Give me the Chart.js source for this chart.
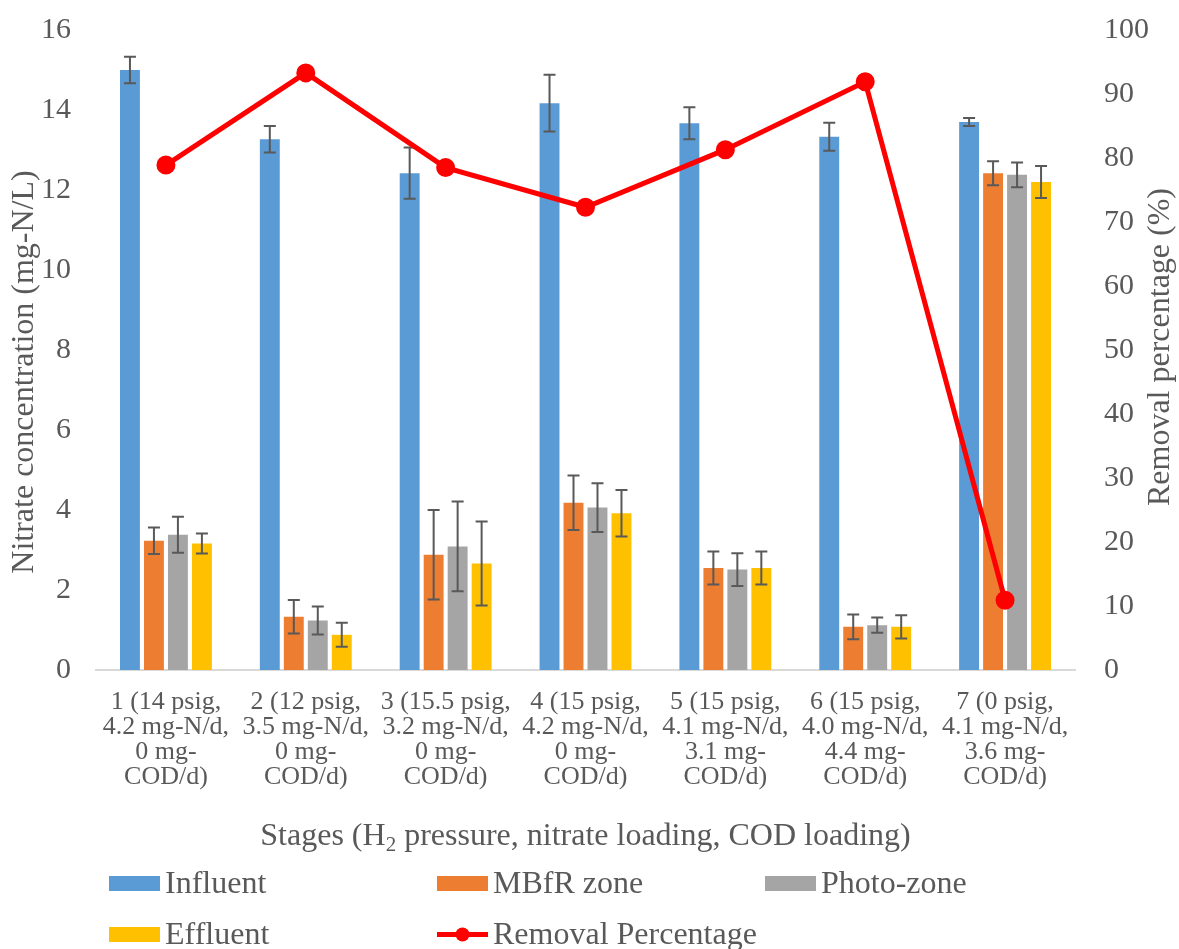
<!DOCTYPE html>
<html>
<head>
<meta charset="utf-8">
<title>Nitrate removal by stage</title>
<script src="https://cdn.jsdelivr.net/npm/chart.js@4.4.1/dist/chart.umd.min.js"></script>
<style>
  html, body { margin: 0; padding: 0; background: #ffffff; }
  canvas { display: block; }
</style>
</head>
<body>
<canvas id="chart" width="1179" height="949"></canvas>
<script>
// Stage labels (multi-line)
const stages = [
  ["1 (14 psig,", "4.2 mg-N/d,", "0 mg-", "COD/d)"],
  ["2 (12 psig,", "3.5 mg-N/d,", "0 mg-", "COD/d)"],
  ["3 (15.5 psig,", "3.2 mg-N/d,", "0 mg-", "COD/d)"],
  ["4 (15 psig,", "4.2 mg-N/d,", "0 mg-", "COD/d)"],
  ["5 (15 psig,", "4.1 mg-N/d,", "3.1 mg-", "COD/d)"],
  ["6 (15 psig,", "4.0 mg-N/d,", "4.4 mg-", "COD/d)"],
  ["7 (0 psig,", "4.1 mg-N/d,", "3.6 mg-", "COD/d)"]
];

// Nitrate concentration (mg-N/L) and standard deviations
const influent    = [15.00, 13.27, 12.42, 14.17, 13.67, 13.33, 13.70];
const influentErr = [0.33, 0.33, 0.64, 0.71, 0.40, 0.35, 0.10];
const mbfr        = [3.23, 1.33, 2.88, 4.18, 2.55, 1.08, 12.42];
const mbfrErr     = [0.33, 0.42, 1.12, 0.68, 0.41, 0.31, 0.30];
const photo       = [3.38, 1.24, 3.09, 4.06, 2.51, 1.12, 12.38];
const photoErr    = [0.45, 0.35, 1.12, 0.61, 0.41, 0.19, 0.31];
const effluent    = [3.16, 0.88, 2.66, 3.92, 2.55, 1.08, 12.20];
const effluentErr = [0.25, 0.30, 1.05, 0.58, 0.41, 0.29, 0.40];

// Removal percentage (%)
const removal = [78.9, 93.3, 78.5, 72.3, 81.3, 91.9, 10.9];

// Axis ticks
const leftTicks  = [0, 2, 4, 6, 8, 10, 12, 14, 16];
const rightTicks = [0, 10, 20, 30, 40, 50, 60, 70, 80, 90, 100];

// Axis titles
const leftTitle  = 'Nitrate concentration (mg-N/L)';
const rightTitle = 'Removal percentage (%)';

const FONT = "'Liberation Serif', 'Times New Roman', serif";
const TEXT = '#595959';

// Error bars drawn right after each bar dataset
const errorBars = {
  id: 'errorBars',
  afterDatasetDraw(chart, args) {
    const ds = chart.data.datasets[args.index];
    if (!ds.errors) return;
    const meta = args.meta;
    const y = chart.scales[meta.yAxisID];
    const ctx = chart.ctx;
    ctx.save();
    ctx.strokeStyle = '#595959';
    ctx.lineWidth = 2;
    meta.data.forEach((bar, i) => {
      const v = ds.data[i], e = ds.errors[i];
      const top = y.getPixelForValue(v + e);
      const bot = y.getPixelForValue(v - e);
      const x = bar.x, cap = 6;
      ctx.beginPath();
      ctx.moveTo(x, top); ctx.lineTo(x, bot);
      ctx.moveTo(x - cap, top); ctx.lineTo(x + cap, top);
      ctx.moveTo(x - cap, bot); ctx.lineTo(x + cap, bot);
      ctx.stroke();
    });
    ctx.restore();
  }
};

// Axis titles (x title with subscript) and a three-column legend
const decor = {
  id: 'decor',
  afterDraw(chart) {
    const ctx = chart.ctx;
    const area = chart.chartArea;
    const big = '32px ' + FONT, small = '21px ' + FONT;
    ctx.save();
    ctx.fillStyle = TEXT;

    // Vertical axis titles, reading bottom to top
    ctx.font = big;
    ctx.textAlign = 'center';
    ctx.textBaseline = 'middle';
    [[leftTitle, 25, 372], [rightTitle, 1161, 347]].forEach(([t, x, y]) => {
      ctx.save();
      ctx.translate(x, y);
      ctx.rotate(-Math.PI / 2);
      ctx.fillText(t, 0, 0);
      ctx.restore();
    });

    // Horizontal axis title
    ctx.textBaseline = 'alphabetic';
    ctx.textAlign = 'left';
    const parts = [
      { t: 'Stages (H', f: big, dy: 0 },
      { t: '2', f: small, dy: 6 },
      { t: ' pressure, nitrate loading, COD loading)', f: big, dy: 0 }
    ];
    let total = 0;
    parts.forEach(p => { ctx.font = p.f; p.w = ctx.measureText(p.t).width; total += p.w; });
    let x = (area.left + area.right) / 2 - total / 2;
    const base = 845;
    parts.forEach(p => { ctx.font = p.f; ctx.fillText(p.t, x, base + p.dy); x += p.w; });

    // Legend
    const cols = [109, 437, 765];
    const rows = [883.5, 934.5];
    ctx.font = big;
    chart.data.datasets.forEach((ds, i) => {
      const cx = cols[i % 3], cy = rows[Math.floor(i / 3)];
      if (ds.type === 'line') {
        ctx.strokeStyle = ds.borderColor;
        ctx.lineWidth = 5;
        ctx.beginPath(); ctx.moveTo(cx, cy); ctx.lineTo(cx + 51, cy); ctx.stroke();
        ctx.fillStyle = ds.pointBackgroundColor;
        ctx.beginPath(); ctx.arc(cx + 25.5, cy, 7, 0, Math.PI * 2); ctx.fill();
      } else {
        ctx.fillStyle = ds.backgroundColor;
        ctx.fillRect(cx, cy - 7.5, 51, 15);
      }
      ctx.fillStyle = TEXT;
      ctx.fillText(ds.label, cx + 56, cy + 9.5);
    });
    ctx.restore();
  }
};

const barStyle = { barPercentage: 0.83, categoryPercentage: 0.686, order: 1, yAxisID: 'y' };

// Vertical axes keep a fixed width and do not reserve extra space for end labels
function fixVertical(width) {
  return function (s) { s.width = width; s.paddingTop = 0; s.paddingBottom = 0; };
}

new Chart(document.getElementById('chart'), {
  data: {
    labels: stages,
    datasets: [
      Object.assign({ type: 'bar', label: 'Influent', data: influent, errors: influentErr, backgroundColor: '#5B9BD5' }, barStyle),
      Object.assign({ type: 'bar', label: 'MBfR zone', data: mbfr, errors: mbfrErr, backgroundColor: '#ED7D31' }, barStyle),
      Object.assign({ type: 'bar', label: 'Photo-zone', data: photo, errors: photoErr, backgroundColor: '#A5A5A5' }, barStyle),
      Object.assign({ type: 'bar', label: 'Effluent', data: effluent, errors: effluentErr, backgroundColor: '#FFC000' }, barStyle),
      {
        type: 'line', label: 'Removal Percentage', data: removal, yAxisID: 'y1', order: 0,
        borderColor: '#FF0000', backgroundColor: '#FF0000', borderWidth: 5,
        pointBackgroundColor: '#FF0000', pointBorderColor: '#FF0000',
        pointRadius: 7, tension: 0, fill: false
      }
    ]
  },
  options: {
    responsive: false,
    animation: false,
    devicePixelRatio: 1,
    layout: { padding: { top: 30, left: 0, right: 0, bottom: 0 } },
    plugins: { legend: { display: false }, tooltip: { enabled: false } },
    scales: {
      x: {
        grid: { display: false },
        border: { display: true, color: '#D9D9D9', width: 2 },
        ticks: {
          color: TEXT, padding: 12, maxRotation: 0, autoSkip: false,
          font: { family: FONT, size: 26, lineHeight: 25 / 26 }
        },
        afterFit(s) { s.height = 279; }
      },
      y: {
        position: 'left', min: 0, max: 16,
        grid: { display: false, drawTicks: false },
        border: { display: false },
        afterBuildTicks(s) { s.ticks = leftTicks.map(v => ({ value: v })); },
        ticks: { color: TEXT, padding: 25, font: { family: FONT, size: 30 } },
        afterFit: fixVertical(96)
      },
      y1: {
        position: 'right', min: 0, max: 100,
        grid: { display: false, drawTicks: false },
        border: { display: false },
        afterBuildTicks(s) { s.ticks = rightTicks.map(v => ({ value: v })); },
        ticks: { color: TEXT, padding: 29, font: { family: FONT, size: 30 } },
        afterFit: fixVertical(104)
      }
    }
  },
  plugins: [errorBars, decor]
});
</script>
</body>
</html>
